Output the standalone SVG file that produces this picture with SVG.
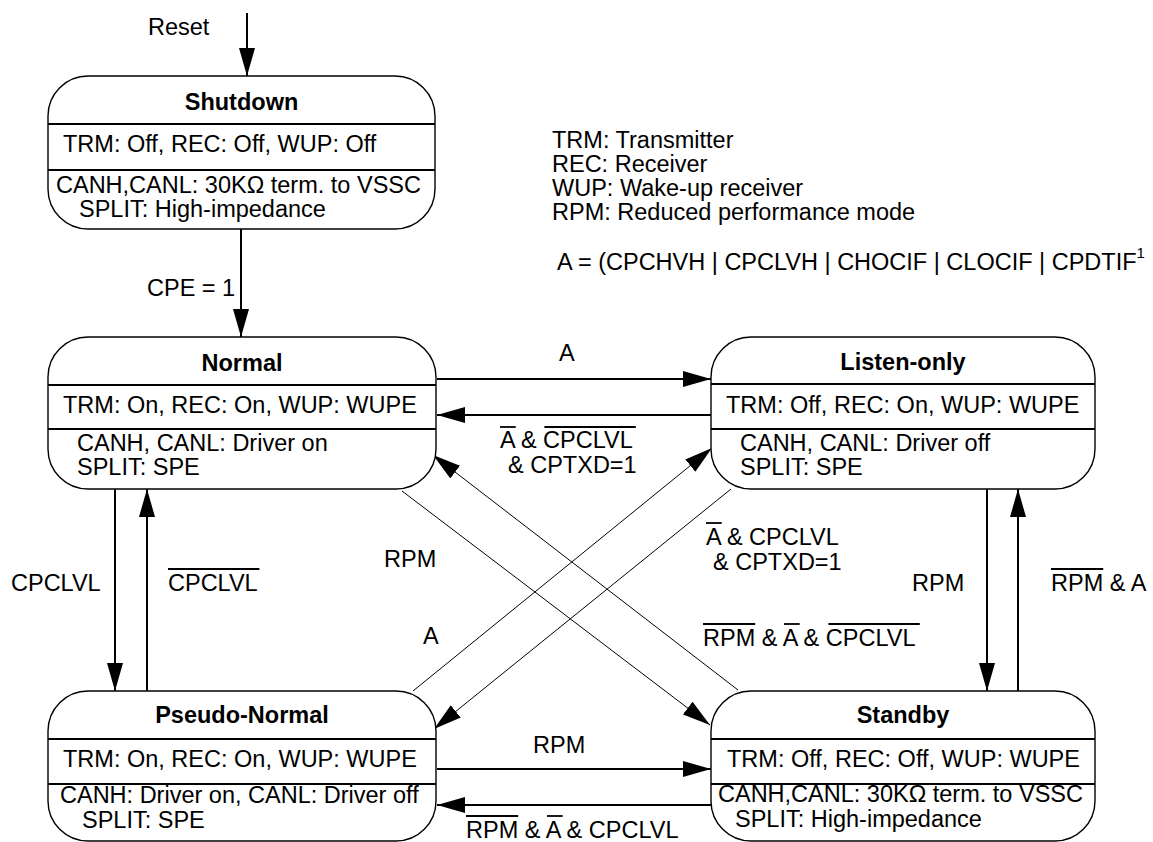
<svg xmlns="http://www.w3.org/2000/svg" width="1153" height="842" viewBox="0 0 1153 842">
  <style>
    text { font-family: "Liberation Sans", Arial, sans-serif; font-size: 23.5px; fill: #000; }
    .title { font-weight: bold; text-anchor: middle; }
    .box { fill: #fff; stroke: #000; stroke-width: 1.4; }
    .div { stroke: #000; stroke-width: 2; }
    .arr { stroke: #000; stroke-width: 2; fill: none; marker-end: url(#ah); }
    .diag { stroke: #000; stroke-width: 1; fill: none; marker-end: url(#ah); }
    .ol { stroke: #000; stroke-width: 1.8; }
    .sup { font-size: 15px; }
  </style>
  <defs>
    <marker id="ah" viewBox="0 0 28 16" refX="28" refY="8" markerWidth="28" markerHeight="16" markerUnits="userSpaceOnUse" orient="auto">
      <path d="M0,0 L28,8 L0,16 z" fill="#000"/>
    </marker>
  </defs>
  <rect x="0" y="0" width="1153" height="842" fill="#fff"/>

  <g id="connectors">
    <line class="arr" x1="247" y1="13" x2="247" y2="76"/>
    <line class="arr" x1="241" y1="229" x2="241" y2="337"/>
    <line class="arr" x1="437" y1="379" x2="711" y2="379"/>
    <line class="arr" x1="711" y1="415" x2="437" y2="415"/>
    <line class="arr" x1="115" y1="489" x2="115" y2="691"/>
    <line class="arr" x1="147" y1="691" x2="147" y2="489"/>
    <line class="arr" x1="987" y1="489" x2="987" y2="691"/>
    <line class="arr" x1="1018" y1="691" x2="1018" y2="489"/>
    <line class="arr" x1="437" y1="769" x2="711" y2="769"/>
    <line class="arr" x1="711" y1="805" x2="437" y2="805"/>
    <line class="diag" x1="402" y1="491" x2="710" y2="725"/>
    <line class="diag" x1="738" y1="690" x2="433" y2="455"/>
    <line class="diag" x1="413" y1="691" x2="712" y2="448"/>
    <line class="diag" x1="731" y1="489" x2="434" y2="729"/>

    <text x="148" y="35">Reset</text>
    <text x="147" y="296">CPE = 1</text>
    <text x="559" y="361">A</text>
    <text x="500" y="448">A &amp; CPCLVL</text>
    <line class="ol" x1="500" y1="427" x2="515.7" y2="427"/>
    <line class="ol" x1="544.4" y1="427" x2="635.8" y2="427"/>
    <text x="508" y="473">&amp; CPTXD=1</text>

    <text x="11" y="591">CPCLVL</text>
    <text x="168" y="591">CPCLVL</text>
    <line class="ol" x1="168" y1="569" x2="259.4" y2="569"/>

    <text x="384" y="567">RPM</text>
    <text x="423" y="644">A</text>
    <text x="706" y="545">A &amp; CPCLVL</text>
    <line class="ol" x1="706" y1="523" x2="721.7" y2="523"/>
    <text x="713" y="570">&amp; CPTXD=1</text>
    <text x="703" y="646">RPM &amp; A &amp; CPCLVL</text>
    <line class="ol" x1="703" y1="624" x2="755.2" y2="624"/>
    <line class="ol" x1="784" y1="624" x2="799.7" y2="624"/>
    <line class="ol" x1="828.4" y1="624" x2="919.8" y2="624"/>

    <text x="912" y="591">RPM</text>
    <text x="1051" y="591">RPM &amp; A</text>
    <line class="ol" x1="1051" y1="569" x2="1103.2" y2="569"/>

    <text x="533" y="753">RPM</text>
    <text x="466" y="838">RPM &amp; A &amp; CPCLVL</text>
    <line class="ol" x1="466" y1="816" x2="518.2" y2="816"/>
    <line class="ol" x1="547" y1="816" x2="562.7" y2="816"/>
  </g>

  <g id="shutdown">
    <rect class="box" x="48" y="76" width="387" height="153" rx="40" ry="40"/>
    <line class="div" x1="48" y1="124" x2="435" y2="124"/>
    <line class="div" x1="48" y1="170" x2="435" y2="170"/>
    <text class="title" x="241.5" y="110">Shutdown</text>
    <text x="63" y="152">TRM: Off, REC: Off, WUP: Off</text>
    <text x="56" y="193">CANH,CANL: 30KΩ term. to VSSC</text>
    <text x="79" y="217">SPLIT: High-impedance</text>
  </g>

  <g id="normal">
    <rect class="box" x="48" y="337" width="388" height="152" rx="40" ry="40"/>
    <line class="div" x1="48" y1="385" x2="436" y2="385"/>
    <line class="div" x1="48" y1="429" x2="436" y2="429"/>
    <text class="title" x="242" y="371">Normal</text>
    <text x="63" y="413">TRM: On, REC: On, WUP: WUPE</text>
    <text x="77" y="451">CANH, CANL: Driver on</text>
    <text x="77" y="475">SPLIT: SPE</text>
  </g>

  <g id="listen-only">
    <rect class="box" x="711" y="337" width="384" height="152" rx="40" ry="40"/>
    <line class="div" x1="711" y1="384" x2="1095" y2="384"/>
    <line class="div" x1="711" y1="429" x2="1095" y2="429"/>
    <text class="title" x="903" y="370">Listen-only</text>
    <text x="726" y="413">TRM: Off, REC: On, WUP: WUPE</text>
    <text x="740" y="451">CANH, CANL: Driver off</text>
    <text x="740" y="475">SPLIT: SPE</text>
  </g>

  <g id="pseudo-normal">
    <rect class="box" x="48" y="691" width="388" height="150" rx="40" ry="40"/>
    <line class="div" x1="48" y1="739" x2="436" y2="739"/>
    <line class="div" x1="48" y1="784" x2="436" y2="784"/>
    <text class="title" x="242" y="723">Pseudo-Normal</text>
    <text x="63" y="767">TRM: On, REC: On, WUP: WUPE</text>
    <text x="60" y="803">CANH: Driver on, CANL: Driver off</text>
    <text x="82" y="828">SPLIT: SPE</text>
  </g>

  <g id="standby">
    <rect class="box" x="711" y="691" width="384" height="150" rx="40" ry="40"/>
    <line class="div" x1="711" y1="739" x2="1095" y2="739"/>
    <line class="div" x1="711" y1="784" x2="1095" y2="784"/>
    <text class="title" x="903" y="723">Standby</text>
    <text x="727" y="767">TRM: Off, REC: Off, WUP: WUPE</text>
    <text x="718" y="802">CANH,CANL: 30KΩ term. to VSSC</text>
    <text x="735" y="827">SPLIT: High-impedance</text>
  </g>

  <g id="legend">
    <text x="552" y="148">TRM: Transmitter</text>
    <text x="552" y="172">REC: Receiver</text>
    <text x="552" y="196">WUP: Wake-up receiver</text>
    <text x="552" y="220">RPM: Reduced performance mode</text>
    <text x="557" y="270">A = (CPCHVH | CPCLVH | CHOCIF | CLOCIF | CPDTIF<tspan class="sup" dy="-12">1</tspan></text>
  </g>
</svg>
